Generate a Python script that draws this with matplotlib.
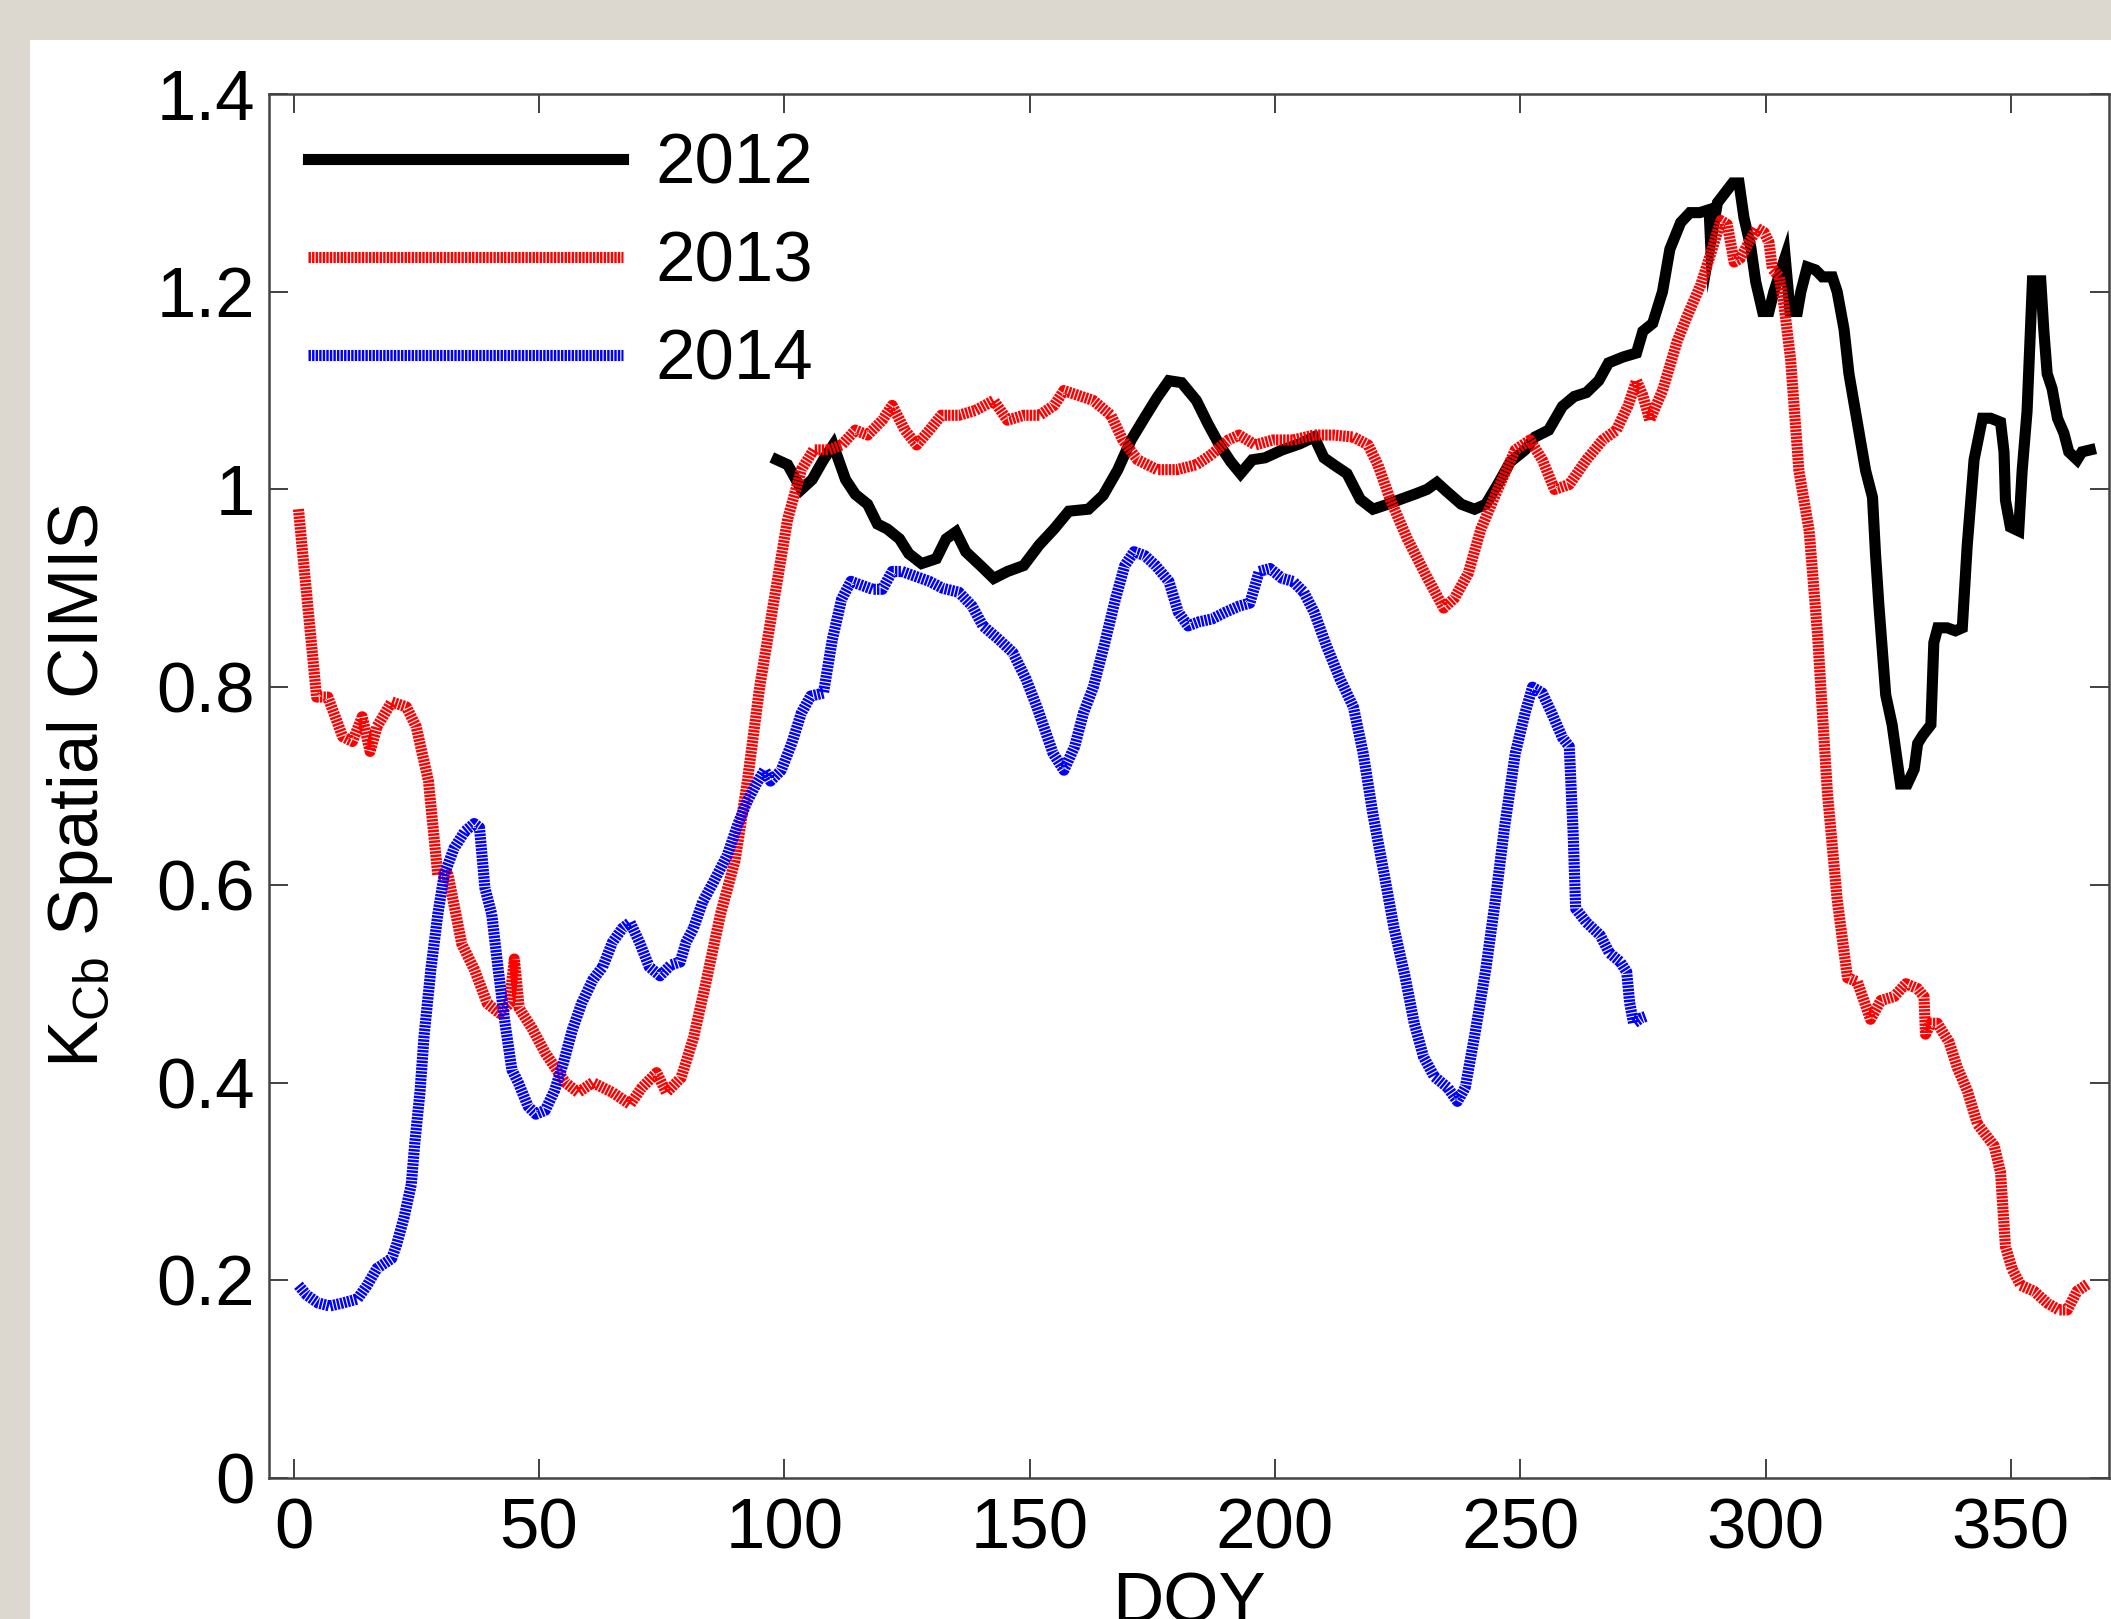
import matplotlib
matplotlib.use("Agg")
import matplotlib.pyplot as plt
from matplotlib.patches import Rectangle

plt.rcParams['font.family'] = ['Liberation Sans', 'DejaVu Sans']
plt.rcParams['mathtext.default'] = 'regular'

# 2012 (starts around DOY 98)
doy_2012 = [98.5, 100.7, 103.5, 105.7, 108, 110, 112.5, 114.5, 117, 119, 121, 123.5, 125.4, 128,
            131, 133, 135, 137, 140, 142.7, 145.5, 148.8, 152, 155, 158, 162, 165, 168, 170.7,
            173.5, 176, 178.4, 181, 184, 186.4, 188.6, 191, 193, 195.4, 198, 201.5, 205, 208,
            210, 212, 214.7, 217.4, 220, 223, 225.6, 228.4, 231, 233, 235, 238, 240.7, 243,
            245.4, 248, 251, 253, 255.8, 258.6, 261, 263.5, 266, 268, 271, 273.7, 275, 277,
            279, 280.5, 282.7, 284.6, 286.6, 288.5, 288.8, 290.2, 293.3, 294.6, 295.6, 297,
            298, 299.4, 300.7, 301.7, 303, 304, 305, 306.5, 307.2, 308.5, 310.2, 311.6, 313.6,
            314.6, 316, 317, 318.7, 320.4, 321.8, 322.4, 323.1, 324.5, 325.8, 327.5, 328.9,
            330.3, 331, 332, 333.7, 334.3, 335.1, 337, 338.7, 340.1, 341.1, 342.5, 344.2,
            345.9, 347.9, 348.6, 348.9, 349.9, 351.6, 352.3, 353.3, 354.4, 356.1, 356.7,
            357.4, 358.4, 359.5, 360.8, 361.8, 363.5, 364.5, 366.2]
kcb_2012 = [1.03, 1.025, 1.0, 1.01, 1.03, 1.045, 1.01, 0.995, 0.985, 0.965, 0.96, 0.95, 0.935, 0.925,
            0.93, 0.95, 0.957, 0.937, 0.923, 0.91, 0.917, 0.923, 0.944, 0.96, 0.978, 0.98,
            0.994, 1.02, 1.05, 1.073, 1.093, 1.11, 1.108, 1.09, 1.066, 1.046, 1.028, 1.016,
            1.03, 1.032, 1.04, 1.046, 1.053, 1.032, 1.025, 1.016, 0.99, 0.98, 0.985, 0.99,
            0.995, 1.0, 1.007, 0.998, 0.985, 0.98, 0.985, 1.005, 1.028, 1.04, 1.053, 1.06,
            1.084, 1.094, 1.098, 1.11, 1.128, 1.134, 1.138, 1.16, 1.168, 1.2, 1.243, 1.27,
            1.28, 1.28, 1.283, 1.25, 1.29, 1.31, 1.31, 1.275, 1.245, 1.21, 1.18, 1.18, 1.2,
            1.22, 1.235, 1.18, 1.18, 1.2, 1.225, 1.222, 1.215, 1.215, 1.2, 1.162, 1.117,
            1.068, 1.019, 0.992, 0.936, 0.883, 0.792, 0.762, 0.702, 0.702, 0.717, 0.743,
            0.751, 0.762, 0.845, 0.86, 0.86, 0.857, 0.86, 0.943, 1.03, 1.072, 1.072, 1.068,
            1.038, 0.989, 0.962, 0.958, 1.019, 1.079, 1.211, 1.211, 1.162, 1.117, 1.102,
            1.072, 1.057, 1.038, 1.03, 1.038, 1.04]

# 2013
doy_2013 = [1, 4.7, 7, 10, 12, 14, 15.6, 17, 20, 23, 25, 27.5, 29.4, 31.5, 34.3, 36.8, 39.5, 42,
            44, 45, 46, 48.6, 51.3, 55.4, 58, 61, 65, 68.6, 71, 74, 76, 79, 81.5, 84, 87, 90,
            92.5, 95, 98, 100.7, 103.5, 106, 109, 111.7, 114.5, 117, 120, 122, 124.6, 127,
            129.6, 132, 135.6, 139, 142.7, 145.5, 148.8, 152, 155, 157, 160, 163, 166.6, 169,
            172, 176, 180, 184, 187, 190.5, 192.7, 196, 199.6, 203.7, 208, 212, 216, 219, 221,
            223.5, 227, 230.6, 234.4, 236.6, 239.4, 242, 245.4, 249, 252, 254.5, 257, 260,
            263.5, 266.8, 269.6, 272, 273.7, 275, 276.4, 279, 282, 284, 286.8, 288.8, 290.9,
            292.2, 293.6, 294.9, 296.6, 298.3, 299.7, 300.7, 301.4, 302.8, 303.8, 305.1,
            306.8, 308.9, 310.6, 312.6, 314.6, 316.7, 318.7, 321.4, 323.5, 326.2, 328.6, 331,
            332.3, 332.6, 333.7, 335, 337.4, 339.1, 341.1, 343.2, 344.9, 346.6, 347.9, 348.9,
            350.3, 352, 354.7, 357.4, 359.8, 361.5, 363.5, 365.6]
kcb_2013 = [0.98, 0.79, 0.79, 0.75, 0.745, 0.77, 0.735, 0.76, 0.785, 0.78, 0.76, 0.705, 0.61, 0.61,
            0.54, 0.515, 0.48, 0.47, 0.48, 0.525, 0.475, 0.455, 0.43, 0.40, 0.39, 0.40, 0.39,
            0.378, 0.395, 0.41, 0.39, 0.405, 0.445, 0.50, 0.57, 0.625, 0.705, 0.80, 0.89,
            0.97, 1.02, 1.04, 1.04, 1.045, 1.06, 1.055, 1.07, 1.085, 1.06, 1.045, 1.06, 1.075,
            1.075, 1.08, 1.09, 1.07, 1.075, 1.075, 1.085, 1.10, 1.095, 1.09, 1.075, 1.05,
            1.03, 1.02, 1.02, 1.025, 1.035, 1.05, 1.055, 1.045, 1.05, 1.05, 1.055, 1.055,
            1.053, 1.045, 1.025, 0.99, 0.95, 0.915, 0.88, 0.89, 0.915, 0.96, 1.0, 1.04, 1.05,
            1.03, 1.0, 1.005, 1.03, 1.05, 1.06, 1.085, 1.11, 1.095, 1.07, 1.10, 1.15, 1.175,
            1.207, 1.238, 1.272, 1.268, 1.23, 1.234, 1.25, 1.264, 1.26, 1.25, 1.223, 1.215,
            1.185, 1.132, 1.019, 0.958, 0.853, 0.694, 0.585, 0.506, 0.502, 0.464, 0.483,
            0.487, 0.5, 0.495, 0.487, 0.449, 0.46, 0.46, 0.441, 0.415, 0.392, 0.358, 0.347,
            0.336, 0.309, 0.234, 0.211, 0.195, 0.189, 0.177, 0.17, 0.17, 0.189, 0.196]

# 2014 (ends around DOY 275)
doy_2014 = [1, 2.7, 5, 7.4, 10, 13, 15, 17, 20, 21, 22.5, 24, 24.7, 25.8, 26.6, 28, 29.4, 30.7,
            32.7, 34.9, 36.8, 37.9, 39, 40.4, 41.7, 43.1, 44.5, 45.8, 47.8, 49.4, 51.3, 53.2,
            55, 56.8, 58.7, 61, 63, 65, 67, 68.6, 70.5, 72.5, 74.7, 76.9, 78.8, 80, 81.5,
            83.4, 85.6, 88.4, 90.6, 92.5, 94.4, 96, 97.2, 99.4, 101.6, 103.5, 105.4, 108,
            109.8, 111.7, 113.6, 115.8, 118, 120, 122, 124, 126.8, 129.6, 132.3, 135.6, 138.3,
            140.5, 143.8, 146.6, 149.3, 151.5, 152.9, 154.8, 157, 159.2, 161, 163, 165.2,
            167.5, 169.4, 171.3, 173.5, 175.7, 178.4, 180.3, 182.3, 184.5, 187.2, 190, 192.7,
            194.9, 196.8, 199, 201.5, 203.7, 205.9, 208, 210.5, 213.3, 216, 218, 220, 222.3,
            224.3, 226.5, 228.4, 230.3, 232.5, 235.2, 237.2, 238.8, 240.7, 243, 244.9, 246.8,
            249, 251, 252.5, 254.5, 256.4, 258.6, 260, 260.8, 261.3, 263.5, 266.3, 268.2,
            270.4, 271.7, 272.3, 273.1, 274.5, 275.6]
kcb_2014 = [0.195, 0.185, 0.177, 0.174, 0.177, 0.181, 0.195, 0.212, 0.222, 0.236, 0.263, 0.297,
            0.338, 0.392, 0.447, 0.515, 0.57, 0.61, 0.637, 0.654, 0.662, 0.658, 0.597, 0.57,
            0.515, 0.46, 0.413, 0.40, 0.376, 0.368, 0.372, 0.392, 0.42, 0.453, 0.48, 0.504,
            0.517, 0.542, 0.556, 0.562, 0.542, 0.517, 0.508, 0.519, 0.522, 0.542, 0.556,
            0.583, 0.603, 0.63, 0.662, 0.685, 0.703, 0.716, 0.705, 0.716, 0.744, 0.774, 0.791,
            0.794, 0.848, 0.889, 0.907, 0.903, 0.899, 0.899, 0.917, 0.917, 0.912, 0.907, 0.9,
            0.896, 0.882, 0.862, 0.848, 0.835, 0.808, 0.78, 0.76, 0.733, 0.716, 0.74, 0.774,
            0.80, 0.842, 0.889, 0.923, 0.937, 0.933, 0.923, 0.907, 0.876, 0.862, 0.866, 0.869,
            0.876, 0.882, 0.885, 0.917, 0.92, 0.91, 0.907, 0.896, 0.876, 0.842, 0.808, 0.78,
            0.733, 0.671, 0.61, 0.556, 0.508, 0.46, 0.426, 0.406, 0.395, 0.381, 0.395, 0.447,
            0.515, 0.583, 0.658, 0.733, 0.774, 0.80, 0.794, 0.774, 0.749, 0.74, 0.651, 0.576,
            0.562, 0.549, 0.531, 0.522, 0.512, 0.481, 0.46, 0.465, 0.467]

years = ['2012', '2013', '2014']
x_ticks = [0, 50, 100, 150, 200, 250, 300, 350]
y_ticks = [0, 0.2, 0.4, 0.6, 0.8, 1, 1.2, 1.4]
y_ticklabels = ['0', '0.2', '0.4', '0.6', '0.8', '1', '1.2', '1.4']

fig = plt.figure(figsize=(21.11, 16.19), dpi=100)
fig.patch.set_facecolor('#dcd8cf')
# white panel over the blurred backdrop, kept behind the axes
fig.patches.append(Rectangle((30 / 2111, 0), 1, 1 - 40 / 1619, transform=fig.transFigure,
                             facecolor='white', edgecolor='none', zorder=-10))

ax = fig.add_axes([269 / 2111, 1 - 1478 / 1619, (2109 - 269) / 2111, (1478 - 94) / 1619])
ax.set_facecolor('white')

fs = 51
lw = 8
dash = (0, (0.22, 0.1))
ax.plot(doy_2012, kcb_2012, color='black', lw=lw, label=years[0], solid_joinstyle='miter')
ax.plot(doy_2013, kcb_2013, color='#ff0000', lw=lw, ls=dash, dash_capstyle='butt', label=years[1])
ax.plot(doy_2014, kcb_2014, color='#0000ff', lw=lw, ls=dash, dash_capstyle='butt', label=years[2])

ax.set_xlim(-5, 370)
ax.set_ylim(0, 1.4)
ax.set_xticks(x_ticks)
ax.set_yticks(y_ticks)
ax.set_yticklabels(y_ticklabels)
ax.tick_params(direction='in', length=14, width=1.3, labelsize=fs, top=True, right=True,
               colors='#333333', labelcolor='black')
ax.tick_params(axis='x', pad=14)
ax.tick_params(axis='y', pad=10)
for s in ax.spines.values():
    s.set_linewidth(1.8)
    s.set_color('#444444')

ax.set_xlabel('DOY', fontsize=fs, labelpad=6)
ax.set_ylabel(r'$\mathregular{K_{Cb}}$ Spatial CIMIS', fontsize=fs, labelpad=30)

leg = ax.legend(loc='upper left', frameon=False, fontsize=fs, handlelength=4.45,
                handletextpad=0.45, labelspacing=0.45, borderaxespad=0.15)

fig.savefig('out.png', dpi=100, facecolor=fig.get_facecolor())
